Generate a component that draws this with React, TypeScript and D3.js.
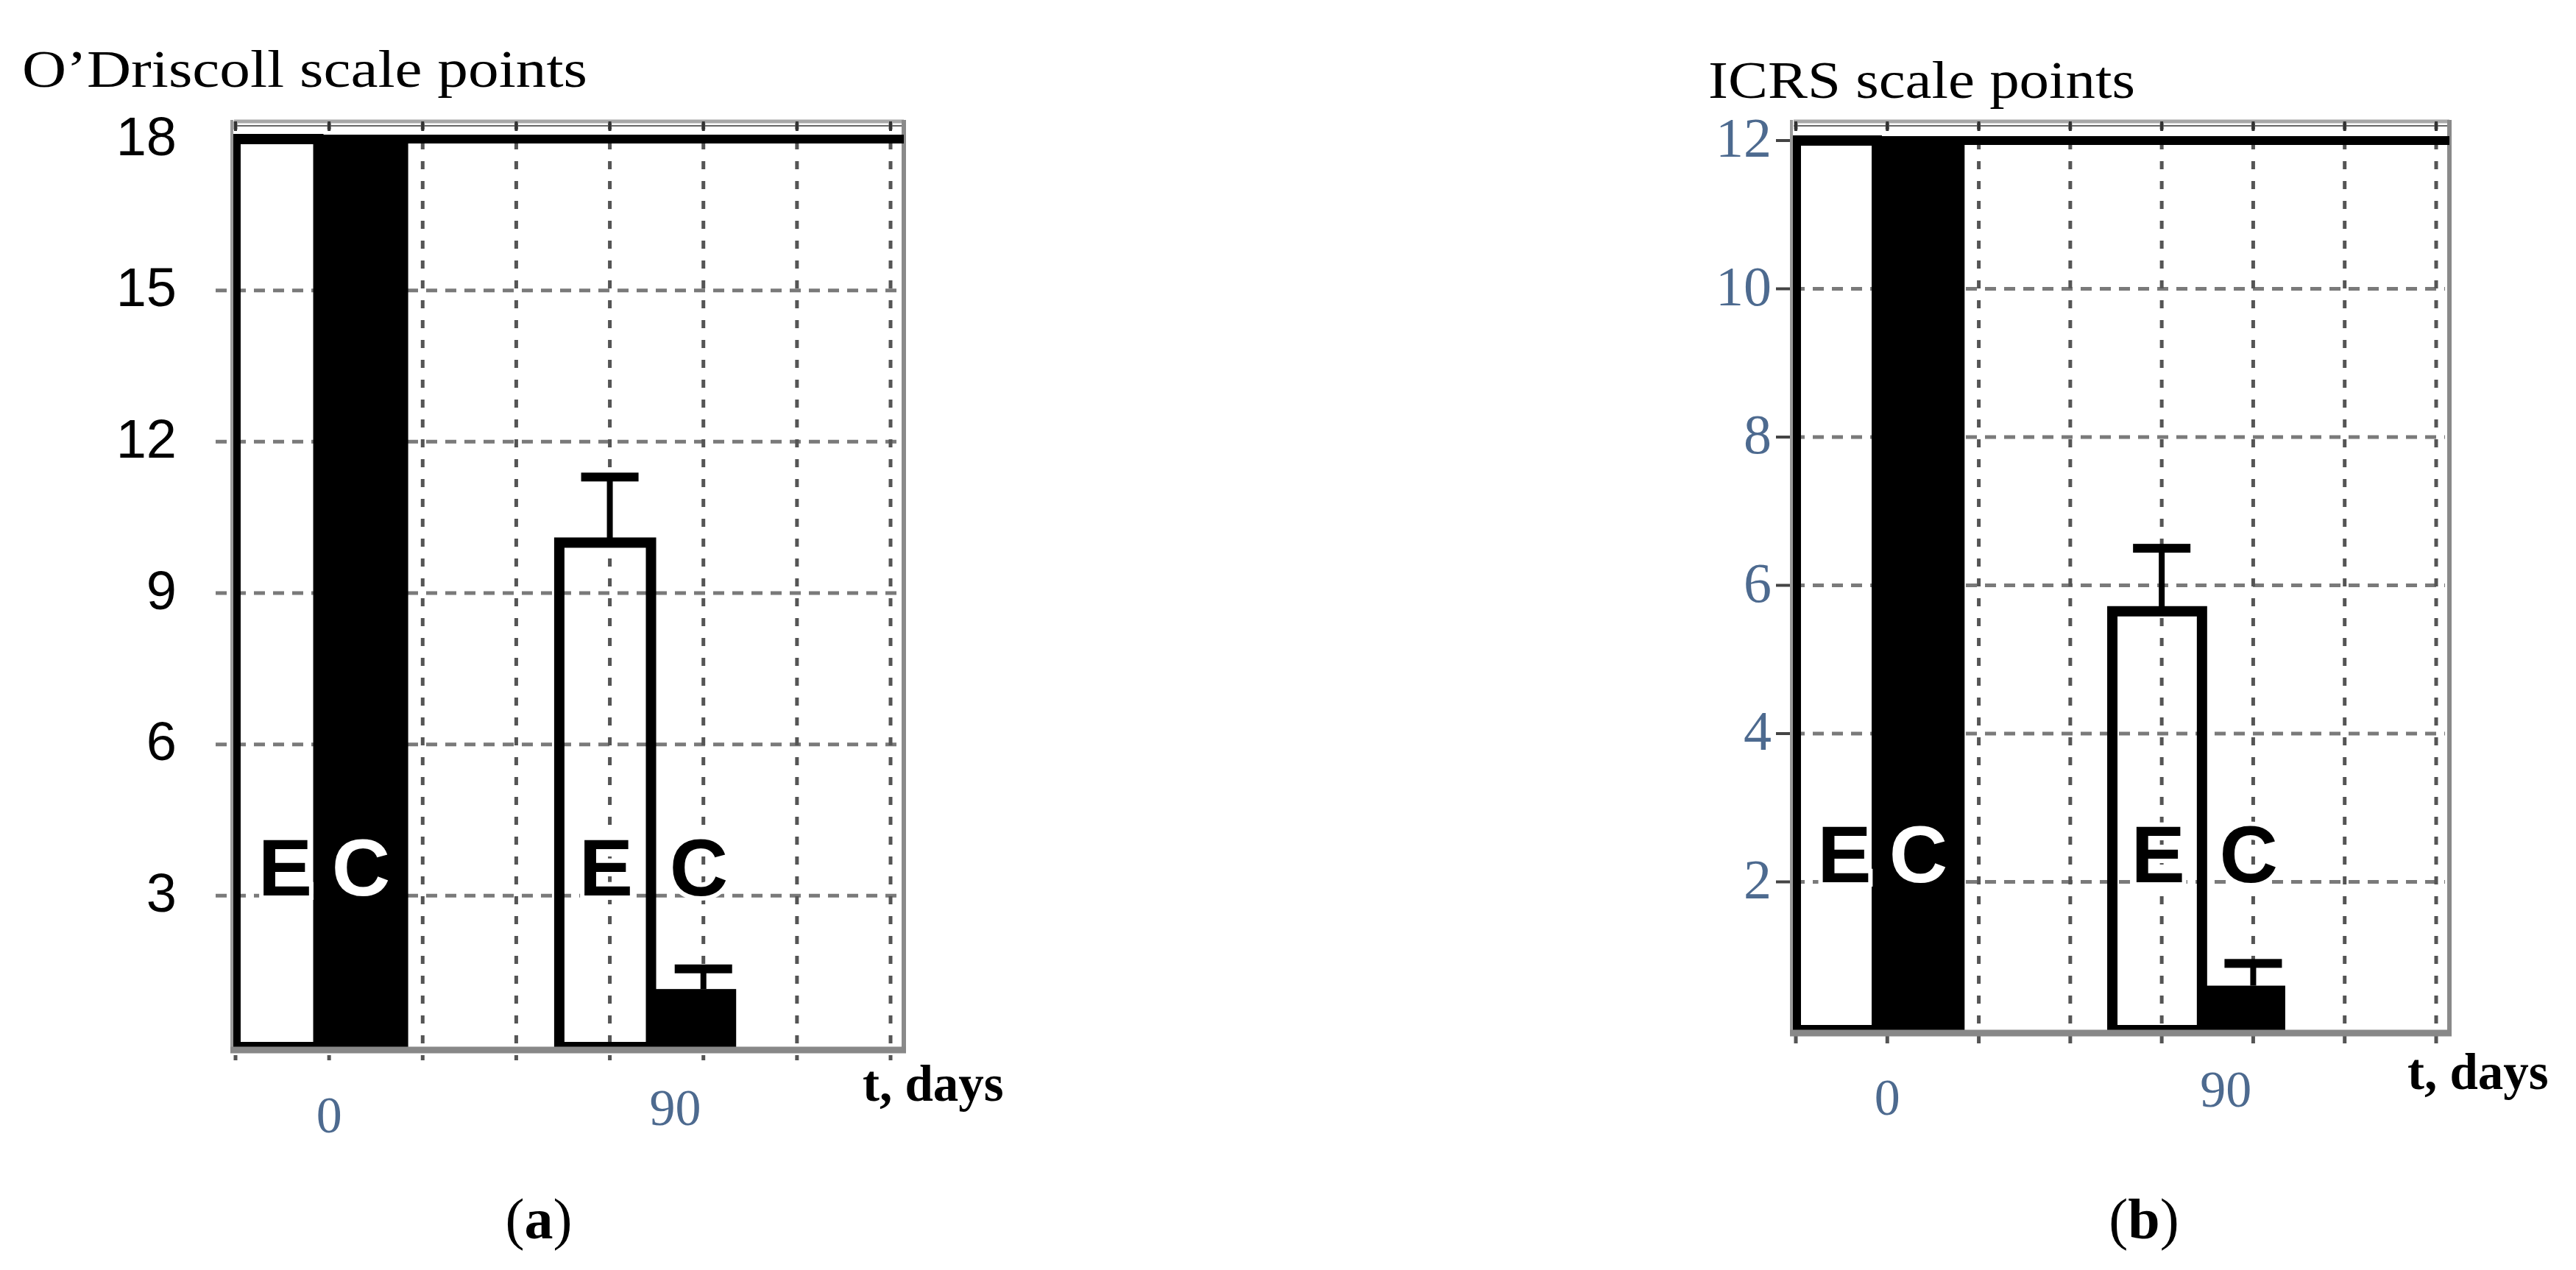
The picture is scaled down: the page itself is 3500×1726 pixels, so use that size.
import React from "react";
import * as d3 from "d3";

// ---------- data ----------
const tickIndex = [0, 1, 2, 3, 4, 5, 6, 7];
const xTickLabels = ["0", "90"];
const xTickLabelPos = [1, 4.7];
const barGroup = ["E", "C", "E", "C"];
const barStart = [0, 0.885, 3.46, 4.44];
const barEnd = [0.885, 1.845, 4.44, 5.35];
const errPos = [0.45, 1.36, 4, 5];
const letterPos = [0.53, 1.34, 3.96, 4.95];
const odriscollMean = [18, 18, 10, 1.15];
const odriscollUpper = [null, null, 11.3, 1.55];
const icrsMean = [12, 12, 5.65, 0.6];
const icrsUpper = [null, null, 6.5, 0.9];
const odriscollTicks = [3, 6, 9, 12, 15, 18];
const icrsTicks = [2, 4, 6, 8, 10, 12];

const LABEL_BLUE = "#4d6a8f";

type PanelProps = {
  title: string;
  titleX: number;
  titleY: number;
  titleLen: number;
  tickL: number;
  tickR: number;
  frameL: number;
  frameR: number;
  frameTop: number;
  yTop: number;
  yBottom: number;
  yMax: number;
  yTicks: number[];
  means: number[];
  uppers: (number | null)[];
  yLabelX: number;
  yLabelFont: string;
  yLabelColor: string;
  yLabelSize: number;
  solidYTick: boolean;
  tDaysX: number;
  tDaysY: number;
  caption: string;
  captionX: number;
  x0LabelDy: number;
  x90LabelDy: number;
};

function Panel(p: PanelProps) {
  const x = d3.scaleLinear().domain([0, 7]).range([p.tickL, p.tickR]);
  const y = d3.scaleLinear().domain([0, p.yMax]).range([p.yBottom, p.yTop]);
  const serif = "'Liberation Serif', 'Times New Roman', serif";
  const sans = "'Liberation Sans', Arial, sans-serif";
  const idx = barGroup.map((_, i) => i);
  const capW = 78;

  return (
    <g>
      {/* white fill of E bars */}
      {idx.filter((i) => barGroup[i] === "E").map((i) => (
        <rect key={"ef" + i} x={x(barStart[i])} y={y(p.means[i])}
          width={x(barEnd[i]) - x(barStart[i])} height={y(0) - y(p.means[i])} fill="#fff" />
      ))}
      {/* horizontal grid */}
      {p.yTicks.filter((t) => t !== p.yMax).map((t) => (
        <line key={"hg" + t} x1={p.frameL - (p.solidYTick ? 0 : 25)} x2={p.frameR - 6}
          y1={y(t)} y2={y(t)} stroke="#7a7a7a" strokeWidth={5} strokeDasharray="15 11" />
      ))}
      {p.solidYTick && p.yTicks.map((t) => (
        <line key={"yt" + t} x1={p.frameL - 24} x2={p.frameL} y1={y(t)} y2={y(t)}
          stroke="#444" strokeWidth={4} />
      ))}
      {/* vertical grid */}
      {tickIndex.map((t) => (
        <line key={"vg" + t} x1={x(t)} x2={x(t)} y1={p.frameTop} y2={p.yBottom + 18}
          stroke="#555" strokeWidth={5} strokeDasharray="11 16" />
      ))}
      {/* E bar outlines */}
      {idx.filter((i) => barGroup[i] === "E").map((i) => (
        <rect key={"eo" + i} x={x(barStart[i])} y={y(p.means[i])}
          width={x(barEnd[i]) - x(barStart[i])} height={y(0) - y(p.means[i])}
          fill="none" stroke="#000" strokeWidth={14} />
      ))}
      {/* C bars */}
      {idx.filter((i) => barGroup[i] === "C").map((i) => (
        <rect key={"c" + i} x={x(barStart[i])} y={y(p.means[i])}
          width={x(barEnd[i]) - x(barStart[i])} height={y(0) - y(p.means[i])} fill="#000" />
      ))}
      {/* frame */}
      <line x1={p.frameL} x2={p.frameR} y1={p.frameTop} y2={p.frameTop} stroke="#a8a8a8" strokeWidth={5} />
      <line x1={p.frameL} x2={p.frameR} y1={p.frameTop + 6} y2={p.frameTop + 6} stroke="#666" strokeWidth={2} />
      {tickIndex.map((t) => (
        <line key={"tt" + t} x1={x(t)} x2={x(t)} y1={p.frameTop} y2={p.frameTop + 13}
          stroke="#333" strokeWidth={4} />
      ))}
      <line x1={p.frameR} x2={p.frameR} y1={p.frameTop - 2} y2={p.yBottom + 8} stroke="#8a8a8a" strokeWidth={6} />
      <line x1={p.frameL - 3} x2={p.frameL - 3} y1={p.frameTop - 2} y2={p.yBottom + 8} stroke="#9a9a9a" strokeWidth={4} />
      <line x1={p.frameL - 5} x2={p.frameR + 3} y1={p.yBottom + 4} y2={p.yBottom + 4} stroke="#888" strokeWidth={9} />
      {/* max reference line */}
      <line x1={p.frameL} x2={p.frameR} y1={y(p.yMax)} y2={y(p.yMax)} stroke="#000" strokeWidth={12} />
      {/* error bars */}
      {idx.filter((i) => p.uppers[i] !== null).map((i) => (
        <g key={"err" + i}>
          <line x1={x(errPos[i])} x2={x(errPos[i])} y1={y(p.means[i])} y2={y(p.uppers[i] as number)}
            stroke="#000" strokeWidth={8} />
          <rect x={x(errPos[i]) - capW / 2} y={y(p.uppers[i] as number) - 6} width={capW} height={12} fill="#000" />
        </g>
      ))}
      {/* bar letters */}
      {idx.map((i) => {
        const white = barGroup[i] === "C" && p.means[i] > p.yMax / 6;
        return (
          <text key={"l" + i} x={x(letterPos[i])} y={y(p.yMax / 6)} textAnchor="middle"
            fontFamily={sans} fontWeight="bold" fontSize={110}
            fill={white ? "#fff" : "#000"}
            stroke={white ? "none" : "#fff"} strokeWidth={white ? 0 : 12}
            style={{ paintOrder: "stroke" }}>
            {barGroup[i]}
          </text>
        );
      })}
      {/* y labels */}
      {p.yTicks.map((t) => (
        <text key={"yl" + t} x={p.yLabelX} y={y(t) - 4} textAnchor="end" dominantBaseline="central"
          fontFamily={p.yLabelFont} fontSize={p.yLabelSize} fill={p.yLabelColor}>
          {t}
        </text>
      ))}
      {/* x labels */}
      {xTickLabels.map((l, i) => (
        <text key={"xl" + l} x={x(xTickLabelPos[i])} y={p.yBottom + (i === 0 ? p.x0LabelDy : p.x90LabelDy)}
          textAnchor="middle" dominantBaseline="central" fontFamily={serif} fontSize={70} fill={LABEL_BLUE}>
          {l}
        </text>
      ))}
      <text x={p.tDaysX} y={p.tDaysY} fontFamily={serif} fontWeight="bold" fontSize={69} fill="#000">
        t, days
      </text>
      {/* title */}
      <text x={p.titleX} y={p.titleY} fontFamily={serif} fontSize={71} fill="#000"
        textLength={p.titleLen} lengthAdjust="spacingAndGlyphs">
        {p.title}
      </text>
      {/* caption */}
      <text x={p.captionX} y={1683} textAnchor="middle" fontFamily={serif} fontSize={78} fill="#000">
        (<tspan fontWeight="bold">{p.caption}</tspan>)
      </text>
    </g>
  );
}

export default function App() {
  return (
    <svg width={3500} height={1726} viewBox="0 0 3500 1726"
      style={{ position: "absolute", left: 0, top: 0, background: "#fff" }}>
      <rect x={0} y={0} width={3500} height={1726} fill="#fff" />
      <Panel
        title="O’Driscoll scale points" titleX={30} titleY={118} titleLen={768}
        tickL={320} tickR={1210} frameL={318} frameR={1228} frameTop={165}
        yTop={189} yBottom={1423} yMax={18} yTicks={odriscollTicks}
        means={odriscollMean} uppers={odriscollUpper}
        yLabelX={240} yLabelFont="'Liberation Sans', Arial, sans-serif" yLabelColor="#000" yLabelSize={74}
        solidYTick={false}
        tDaysX={1172} tDaysY={1496} caption="a" captionX={732}
        x0LabelDy={92} x90LabelDy={82}
      />
      <Panel
        title="ICRS scale points" titleX={2321} titleY={133} titleLen={580}
        tickL={2440} tickR={3310} frameL={2437} frameR={3328} frameTop={165}
        yTop={191} yBottom={1400} yMax={12} yTicks={icrsTicks}
        means={icrsMean} uppers={icrsUpper}
        yLabelX={2407} yLabelFont="'Liberation Serif', 'Times New Roman', serif" yLabelColor={LABEL_BLUE} yLabelSize={76}
        solidYTick={true}
        tDaysX={3271} tDaysY={1480} caption="b" captionX={2913}
        x0LabelDy={91} x90LabelDy={80}
      />
    </svg>
  );
}
